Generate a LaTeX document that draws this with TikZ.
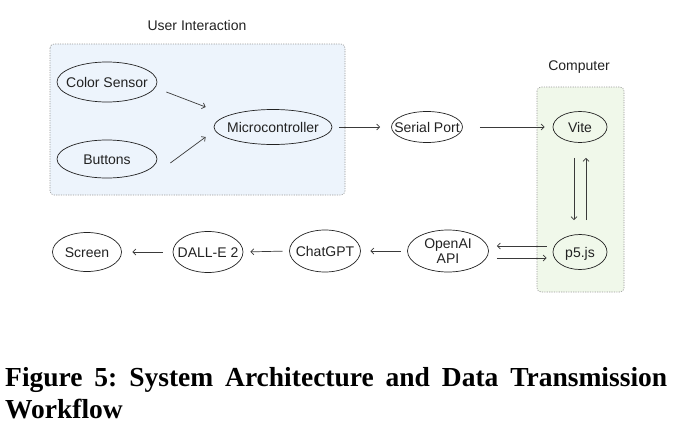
\documentclass[tikz,border=0pt]{standalone}
\usepackage{fontspec}
\setmainfont{Liberation Sans}
\newfontfamily\capfont{Liberation Serif}
\usetikzlibrary{shapes.geometric,arrows.meta}
\definecolor{bluebg}{HTML}{EDF4FC}
\definecolor{greenbg}{HTML}{F0F8EA}
\definecolor{boxline}{HTML}{9A9A9A}
\definecolor{ink}{HTML}{222222}
\definecolor{lineink}{HTML}{3A3A3A}
\begin{document}
\frenchspacing
\begin{tikzpicture}[x=1pt,y=-1pt,
  oval/.style={draw=ink, line width=0.7pt, ellipse, inner sep=0pt, text height=10pt, text depth=0pt, font=\fontsize{14}{16}\selectfont, text=ink},
  grp/.style={draw=boxline, line width=0.6pt, dash pattern=on 1.2pt off 1.2pt, rounded corners=4pt},
  arr/.style={draw=lineink, line width=0.7pt, -{Straight Barb[length=3pt,width=6pt]}},
  ttl/.style={font=\fontsize{14}{16}\selectfont, text=ink, inner sep=0pt},
  captxt/.style={font=\capfont\bfseries\fontsize{27.5}{32}\selectfont, inner sep=0pt, anchor=base west}]
\useasboundingbox (0,0) rectangle (678,442);
% group boxes
\draw[grp, fill=bluebg] (50,44) rectangle (345,195);
\draw[grp, fill=greenbg] (537,87) rectangle (624,292);
\node[ttl] (ui) at (197,25) {User Interaction};
\node[ttl] (comp) at (579,67) {Computer};
% nodes
\node[oval, minimum width=100pt, minimum height=40pt] (cs) at (107,82) {\makebox[0pt]{Color Sensor}};
\node[oval, minimum width=100pt, minimum height=38pt] (bt) at (107,159) {\makebox[0pt]{Buttons}};
\node[oval, minimum width=118pt, minimum height=35pt] (mc) at (273,127) {\makebox[0pt]{Microcontroller}};
\node[oval, minimum width=71pt, minimum height=31pt] (sp) at (427,127) {\makebox[0pt]{Serial Port}};
\node[oval, minimum width=54pt, minimum height=31pt] (vite) at (580,127) {\makebox[0pt]{Vite}};
\node[oval, minimum width=54pt, minimum height=35pt] (p5) at (580,252) {\makebox[0pt]{p5.js}};
\node[oval, minimum width=81pt, minimum height=42pt,
      label={[ttl, align=center, font=\fontsize{14}{15}\selectfont]center:OpenAI\\API}] (oa) at (448,251) {};
\node[oval, minimum width=71pt, minimum height=42pt] (cg) at (325,251) {\makebox[0pt]{ChatGPT}};
\node[oval, minimum width=70pt, minimum height=41pt] (de) at (208,252) {\makebox[0pt]{DALL-E 2}};
\node[oval, minimum width=69pt, minimum height=39pt] (sc) at (87,252) {\makebox[0pt]{Screen}};
% connectors
\draw[arr] ([shift={(9,10)}]cs.east) -- ([shift={(-8,-20)}]mc.west);
\draw[arr] ([shift={(13,4)}]bt.east) -- ([shift={(-8,10)}]mc.west);
\draw[arr, shorten <=7pt, shorten >=11pt] (mc.east) -- (sp.west);
\draw[arr, shorten <=17pt, shorten >=8pt] (sp.east) -- (vite.west);
\draw[arr, shorten <=15pt, shorten >=14pt] ([shift={(-6,0)}]vite.south) -- ([shift={(-6,0)}]p5.north);
\draw[arr, shorten <=14pt, shorten >=15pt] ([shift={(6,0)}]p5.north) -- ([shift={(6,0)}]vite.south);
\draw[arr, shorten <=6pt, shorten >=8pt] ([shift={(0,-6)}]p5.west) -- ([shift={(0,-5)}]oa.east);
\draw[arr, shorten <=8pt, shorten >=6pt] ([shift={(0,7)}]oa.east) -- ([shift={(0,6)}]p5.west);
\draw[arr, shorten <=6.5pt, shorten >=9.5pt] (oa.west) -- (cg.east);
\draw[arr, shorten <=6.5pt, shorten >=7pt] (cg.west) -- (de.east);
\draw[arr, shorten <=10pt, shorten >=10.5pt] (de.west) -- (sc.east);
% caption
\node[captxt] (cap1) at (5,386) {\makebox[662pt][s]{Figure 5: System Architecture and Data Transmission}};
\node[captxt] (cap2) at (5,418) {Workflow};
\end{tikzpicture}
\end{document}
